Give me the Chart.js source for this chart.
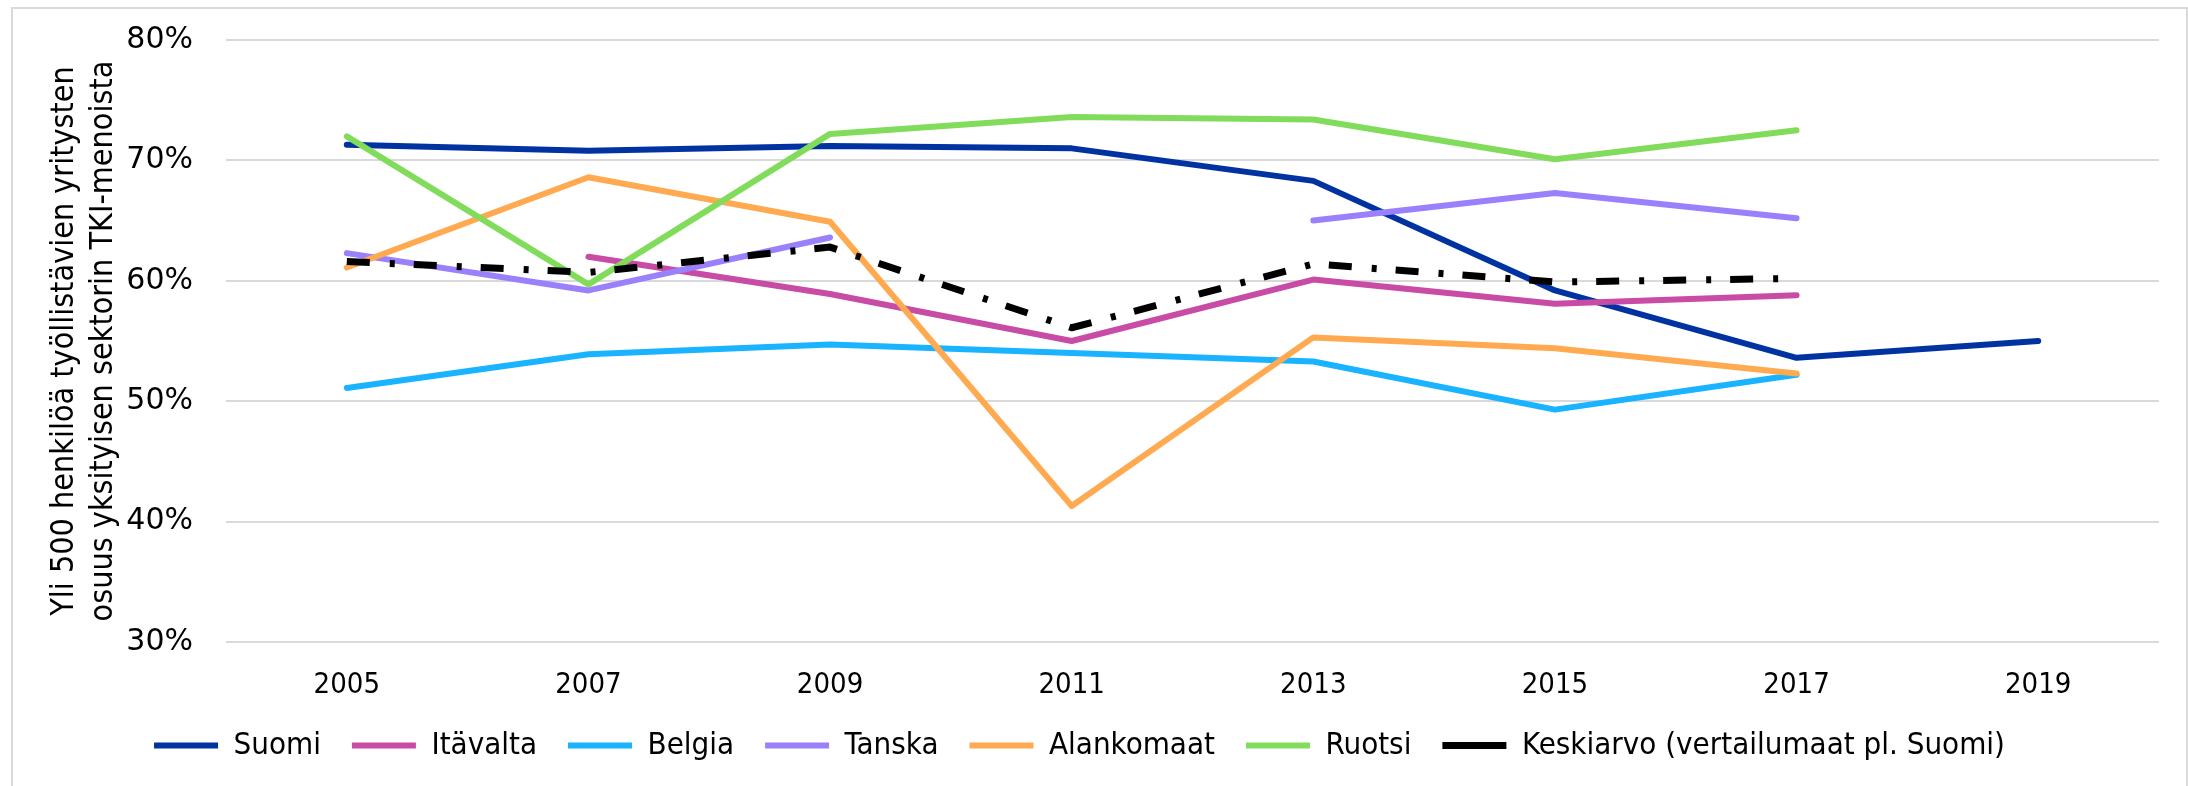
<!DOCTYPE html>
<html>
<head>
<meta charset="utf-8">
<title>Suurten yritysten osuus TKI-menoista</title>
<script src="https://cdn.jsdelivr.net/npm/chart.js@4.4.1/dist/chart.umd.min.js"></script>
<style>
    html, body { margin: 0; padding: 0; background: #fff; }
    #wrap { width: 2188px; height: 786px; }
</style>
</head>
<body>
<div id="wrap"><canvas id="tkiChart" width="2188" height="786"></canvas></div>
<script>
// Data (percent)
const years = ['2005', '2007', '2009', '2011', '2013', '2015', '2017', '2019'];
const suomi = [71.3, 70.8, 71.2, 71.0, 68.3, 59.2, 53.6, 55.0];
const itavalta = [null, 62.0, 58.9, 55.0, 60.1, 58.1, 58.8, null];
const belgia = [51.1, 53.9, 54.7, 54.0, 53.3, 49.3, 52.2, null];
const tanska = [62.3, 59.2, 63.6, null, 65.0, 67.3, 65.2, null];
const alankomaat = [61.1, 68.6, 64.9, 41.3, 55.3, 54.4, 52.3, null];
const ruotsi = [72.0, 59.7, 72.2, 73.6, 73.4, 70.1, 72.5, null];
const keskiarvo = [61.6, 60.7, 62.8, 56.1, 61.4, 59.9, 60.2, null];
const yTicks = [30, 40, 50, 60, 70, 80];

const FONT = '"DejaVu Sans Condensed", "DejaVu Sans", sans-serif';
Chart.defaults.font.family = FONT;
Chart.defaults.font.size = 30;
Chart.defaults.color = '#000';

// Excel draws later series on top, so give later ones lower order
const makeSeries = (label, data, color, idx, extra) => Object.assign({
    label: label,
    data: data,
    borderColor: color,
    backgroundColor: color,
    borderWidth: 6,
    borderCapStyle: 'round',
    borderJoinStyle: 'round',
    pointRadius: 0,
    pointHoverRadius: 0,
    tension: 0,
    spanGaps: false,
    order: 10 - idx,
}, extra || {});

// light frame around the chart
const framePlugin = {
    id: 'frame',
    beforeDraw(chart) {
        const ctx = chart.ctx;
        ctx.save();
        ctx.strokeStyle = '#d9d9d9';
        ctx.lineWidth = 2;
        ctx.strokeRect(12, 8, 2175, 800);
        ctx.restore();
    },
};

const ctx = document.getElementById('tkiChart').getContext('2d');
new Chart(ctx, {
    type: 'line',
    data: {
        labels: years,
        datasets: [
            makeSeries('Suomi', suomi, '#0033a1', 0),
            makeSeries('Itävalta', itavalta, '#c84ba6', 1),
            makeSeries('Belgia', belgia, '#19b3ff', 2),
            makeSeries('Tanska', tanska, '#9a80fb', 3),
            makeSeries('Alankomaat', alankomaat, '#ffaa50', 4),
            makeSeries('Ruotsi', ruotsi, '#81dc5b', 5),
            makeSeries('Keskiarvo (vertailumaat pl. Suomi)', keskiarvo, '#000000', 6, {
                borderWidth: 7,
                borderCapStyle: 'butt',
                borderDash: [23, 20, 5, 19],
            }),
        ],
    },
    options: {
        responsive: false,
        animation: false,
        devicePixelRatio: 1,
        layout: {
            padding: { left: 0, right: 29, top: 40, bottom: 15 },
        },
        plugins: {
            legend: {
                display: true,
                position: 'bottom',
                labels: {
                    usePointStyle: true,
                    pointStyle: 'line',
                    pointStyleWidth: 64,
                    padding: 31,
                    color: '#000',
                    font: { size: 31 },
                    sort: (a, b) => a.datasetIndex - b.datasetIndex,
                },
            },
            tooltip: { enabled: false },
        },
        scales: {
            x: {
                offset: true,
                grid: { display: false, drawTicks: false },
                border: { display: false },
                ticks: { padding: 26, font: { size: 29 }, color: '#000', maxRotation: 0 },
                afterFit(scale) { scale.height = 57; },
            },
            y: {
                min: 30,
                max: 80,
                afterBuildTicks(scale) {
                    scale.ticks = yTicks.map((v) => ({ value: v }));
                },
                grid: { color: '#d9d9d9', lineWidth: 2, drawTicks: false },
                border: { display: false },
                ticks: {
                    padding: 33,
                    font: { size: 30, family: '"DejaVu Sans", sans-serif' },
                    color: '#000',
                    callback: (v) => v + '%',
                },
                title: {
                    display: true,
                    text: ['Yli 500 henkilöä työllistävien yritysten', 'osuus yksityisen sektorin TKI-menoista'],
                    font: { size: 32, lineHeight: 1.22 },
                    color: '#000',
                    padding: { top: 45, bottom: 0 },
                },
                afterFit(scale) {
                    scale.width = 226;
                    scale.paddingTop = 0;
                },
            },
        },
    },
    plugins: [framePlugin],
});
</script>
</body>
</html>
